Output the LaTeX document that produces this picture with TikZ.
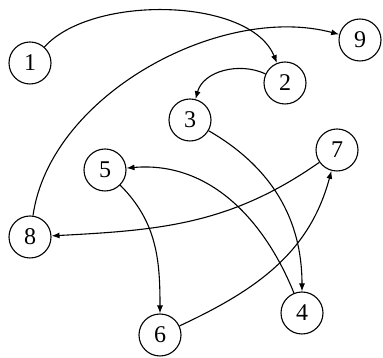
\documentclass[tikz,border=0pt]{standalone}
\usepackage{fontspec}
\setmainfont{Liberation Serif}
\usetikzlibrary{arrows.meta}
\begin{document}
\begin{tikzpicture}[x=1pt,y=1pt,
  vtx/.style={draw,circle,line width=1.1pt,minimum size=42pt,inner sep=0pt,font=\fontsize{24}{24}\selectfont},
  edge/.style={draw,line width=1.1pt,-{Latex[length=8pt,width=6pt]}}]
\useasboundingbox (0,0) rectangle (383,358);
\node[vtx] (n1) at (30,295) {1};
\node[vtx] (n9) at (360,318) {9};
\node[vtx] (n2) at (285,275) {2};
\node[vtx] (n3) at (190,238) {3};
\node[vtx] (n7) at (337,208) {7};
\node[vtx] (n5) at (105,188) {5};
\node[vtx] (n8) at (30,121) {8};
\node[vtx] (n6) at (160,23) {6};
\node[vtx] (n4) at (302,45) {4};
\path[edge] (n1) to[out=48,in=112,looseness=0.78] (n2);
\path[edge] (n8) to[out=82,in=165,looseness=0.88] (n9);
\path[edge] (n2) to[out=155,in=75] (n3);
\path[edge] (n3) to[out=-30,in=90] (n4);
\path[edge] (n4) to[out=112,in=5] (n5);
\path[edge] (n7) to[out=215,in=3] (n8);
\path[edge] (n5) to[out=-45,in=90] (n6);
\path[edge] (n6) to[out=25,in=255] (n7);
\end{tikzpicture}
\end{document}
